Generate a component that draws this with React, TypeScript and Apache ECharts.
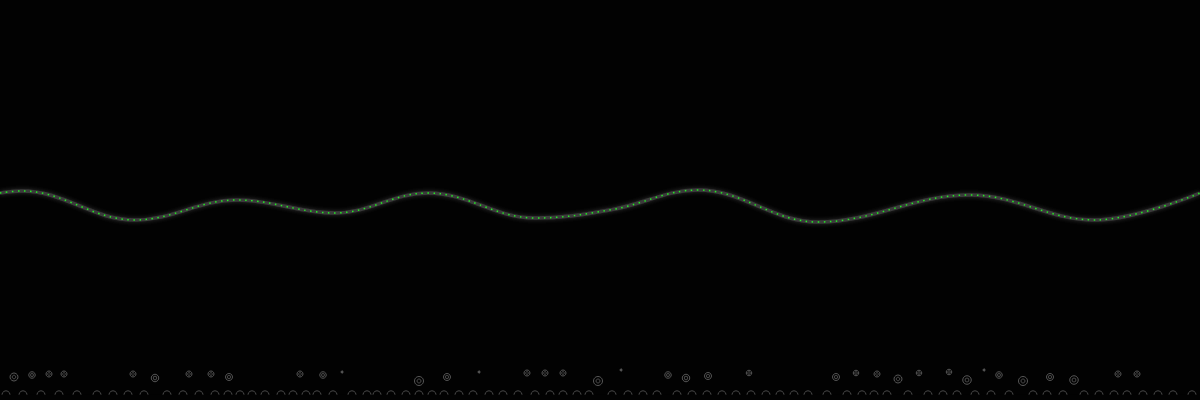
import React, { useEffect, useRef } from "react";
import * as echarts from "echarts";

// Wave line: position along track and level (0..100)
const wavePos = [0, 22, 135, 237, 335, 428, 535, 612, 698, 818, 970, 1095, 1200];
const waveLevel = [51.75, 52.25, 45, 50, 46.75, 51.75, 45.5, 47.6, 52.5, 44.5, 51.25, 45, 51.75];

// Rising bubbles
const bubbleX = [14, 32, 49, 64, 133, 155, 189, 211, 229, 300, 323, 342, 419, 447, 479, 527, 545, 563, 598, 621, 668, 686, 708, 749, 836, 856, 877, 898, 919, 949, 967, 984, 999, 1023, 1050, 1074, 1118, 1137];
const bubbleLevel = [5.75, 6.25, 6.5, 6.5, 6.5, 5.5, 6.5, 6.5, 5.75, 6.5, 6.25, 7, 4.75, 5.75, 7, 6.75, 6.75, 6.75, 4.75, 7.5, 6.25, 5.5, 6, 6.75, 5.75, 6.75, 6.5, 5.25, 6.75, 7, 5, 7.5, 6.25, 4.75, 5.75, 5, 6.5, 6.5];
const bubbleSize = [8, 6.5, 6, 6, 6, 7.5, 6, 6, 7, 6, 6.5, 2, 9, 7, 2, 6, 6, 6, 9, 2, 6.5, 7.5, 7, 5.5, 7, 5.5, 6, 8, 5.5, 5.5, 8.5, 2, 6.5, 9, 7, 8.5, 6, 6];

// Pebbles on the floor
const floorX = [6, 23, 41, 59, 77, 97, 113, 128, 144, 167, 183, 199, 215, 228, 240, 252, 265, 281, 293, 306, 317, 333, 352, 367, 377, 391, 406, 419, 432, 444, 459, 473, 489, 503, 518, 535, 550, 563, 577, 589, 612, 628, 643, 657, 677, 692, 707, 722, 736, 751, 766, 780, 794, 808, 827, 847, 862, 874, 887, 908, 928, 943, 957, 975, 991, 1009, 1033, 1047, 1063, 1084, 1099, 1114, 1127, 1143, 1158, 1173, 1192];
const floorLevel = 1.3;

export default function App() {
  const ref = useRef<HTMLDivElement>(null);
  useEffect(() => {
    if (!ref.current) return;
    const chart = echarts.init(ref.current, undefined, { renderer: "svg" });
    const wave = wavePos.map((x, i) => [x, waveLevel[i]]);
    const bubbles = bubbleX.map((x, i) => [x, bubbleLevel[i], bubbleSize[i]]);
    const floor = floorX.map((x) => [x, floorLevel]);
    chart.setOption({
      animation: false,
      backgroundColor: "#020202",
      grid: { left: 0, right: 0, top: 0, bottom: 0 },
      xAxis: { type: "value", min: 0, max: 1200, show: false },
      yAxis: { type: "value", min: 0, max: 100, show: false },
      graphic: [
        {
          type: "rect",
          shape: { x: 0, y: 394.8, width: 1200, height: 6 },
          style: { fill: "#020202" },
          z: 100,
        },
      ],
      series: [
        {
          type: "line",
          data: wave,
          smooth: 0.38,
          showSymbol: false,
          lineStyle: { color: "#3a3a3a", width: 3.5, shadowBlur: 4, shadowColor: "rgba(110,110,110,0.45)" },
          z: 2,
        },
        {
          type: "line",
          data: wave,
          smooth: 0.38,
          showSymbol: false,
          lineStyle: { color: "#22ee22", width: 1.5, type: [1.5, 4.5] },
          z: 3,
        },
        {
          type: "scatter",
          data: bubbles,
          symbolSize: (v: number[]) => v[2],
          itemStyle: { color: "rgba(0,0,0,0)", borderColor: "#6a6a6a", borderWidth: 1 },
          z: 4,
        },
        {
          type: "scatter",
          data: bubbles,
          symbolSize: (v: number[]) => Math.max(1.5, v[2] * 0.45),
          itemStyle: { color: "rgba(0,0,0,0)", borderColor: "#5a5a5a", borderWidth: 1 },
          z: 4,
        },
        {
          type: "scatter",
          data: floor,
          symbolSize: 8,
          itemStyle: { color: "rgba(0,0,0,0)", borderColor: "#5a5a5a", borderWidth: 1 },
          z: 4,
        },
      ],
    });
    return () => chart.dispose();
  }, []);
  return (
    <div
      ref={ref}
      style={{ position: "absolute", left: 0, top: 0, width: 1200, height: 400, background: "#020202" }}
    />
  );
}
